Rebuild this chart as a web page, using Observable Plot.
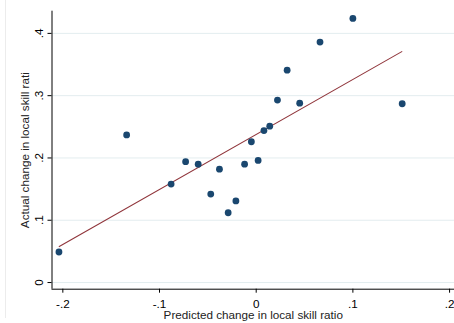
<!DOCTYPE html>
<html>
<head>
<meta charset="utf-8">
<script src="https://cdn.jsdelivr.net/npm/d3@7"></script>
<script src="https://cdn.jsdelivr.net/npm/@observablehq/plot@0.6"></script>
<style>
  html, body { margin: 0; padding: 0; background: #fff; }
  #wrap { position: relative; width: 454px; height: 323px; overflow: hidden; }
  #edge { position: absolute; left: 5px; top: 0; width: 1px; height: 318px; background: #ececec; }
  #chart { position: absolute; left: 0; top: 0; }
</style>
</head>
<body>
<div id="wrap"><div id="edge"></div><div id="chart"></div></div>
<script>
// Scatter data (predicted vs actual change in local skill ratio)
const predicted = [0.100, 0.066, 0.032, 0.022, 0.045, 0.151, 0.014, 0.008, -0.005, 0.002,
                   -0.073, -0.088, -0.060, -0.038, -0.012, -0.047, -0.021, -0.029, -0.134, -0.204];
const actual    = [0.424, 0.386, 0.341, 0.293, 0.288, 0.287, 0.251, 0.244, 0.226, 0.196,
                   0.194, 0.158, 0.190, 0.182, 0.190, 0.142, 0.131, 0.112, 0.237, 0.049];
// Fitted line endpoints
const fitX = [-0.2037, 0.1506];
const fitY = [0.0577, 0.3707];
// Ticks
const xTicks = [-0.2, -0.1, 0, 0.1, 0.2];
const yTicks = [0, 0.1, 0.2, 0.3, 0.4];
const xDomain = [-0.2112, 0.2051];
const yDomain = [-0.0107, 0.4356];
const xTitle = "Predicted change in local skill ratio";
const yTitle = "Actual change in local skill rati";

const points = predicted.map((x, i) => ({x, y: actual[i]}));
const fit = fitX.map((x, i) => ({x, y: fitY[i]}));
const fmt = d => d === 0 ? "0" : String(+d.toFixed(1)).replace("0.", ".");

const chart = Plot.plot({
  width: 454,
  height: 323,
  marginLeft: 51.5,
  marginRight: 0,
  marginTop: 10.7,
  marginBottom: 34.3,
  style: {fontFamily: "'Liberation Sans', Arial, sans-serif", fontSize: "11.7px", color: "#000", background: "transparent"},
  x: {domain: xDomain},
  y: {domain: yDomain},
  marks: [
    Plot.gridY(yTicks, {stroke: "#e3edef", strokeOpacity: 1, strokeWidth: 1}),
    Plot.axisX(xTicks, {tickSize: 4, tickPadding: 6.5, tickFormat: fmt, label: null, stroke: "#000", fontSize: 11.7}),
    Plot.axisY(yTicks, {tickSize: 4, tickPadding: 5, tickRotate: -90, tickFormat: fmt, label: null, stroke: "#000", fontSize: 11.7}),
    Plot.ruleX([xDomain[0]], {stroke: "#000", strokeWidth: 1}),
    Plot.ruleY([yDomain[0]], {stroke: "#000", strokeWidth: 1}),
    Plot.line(fit, {x: "x", y: "y", stroke: "#90353b", strokeWidth: 1.1}),
    Plot.dot(points, {x: "x", y: "y", r: 3.4, fill: "#1a476f", stroke: "none"}),
    Plot.text([xTitle], {frameAnchor: "bottom", dy: 26, textAnchor: "middle", lineAnchor: "middle", text: d => d, fontSize: 11.7, fill: "#222"}),
    Plot.text([yTitle], {frameAnchor: "left", dx: -26.5, rotate: -90, textAnchor: "middle", lineAnchor: "middle", text: d => d, fontSize: 11.7, fill: "#222"})
  ]
});
document.getElementById("chart").appendChild(chart);
</script>
</body>
</html>
